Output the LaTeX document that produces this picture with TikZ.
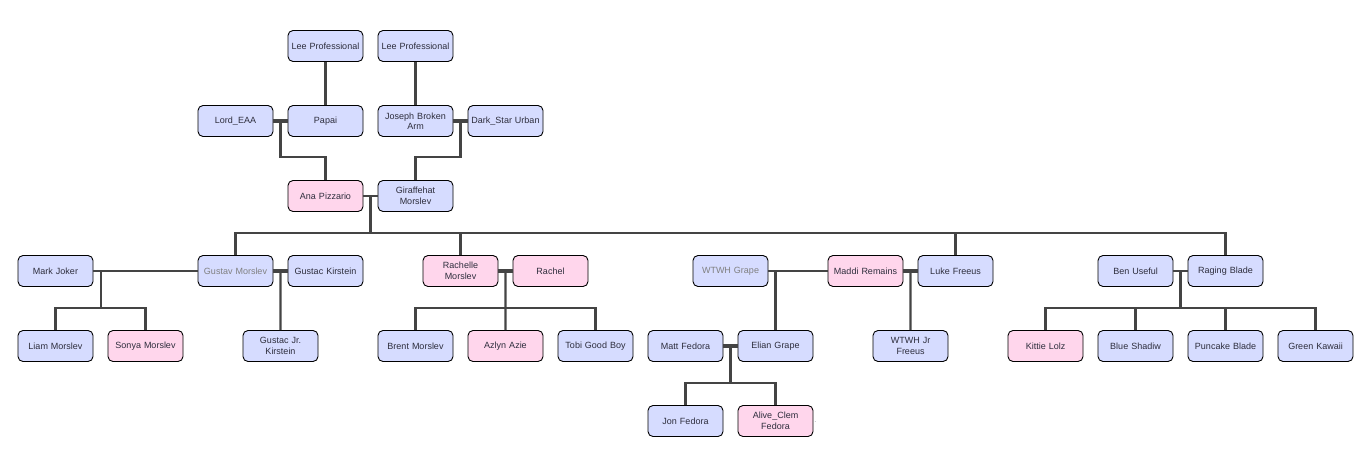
\documentclass[tikz,border=0pt]{standalone}
\usepackage{fontspec}
\setmainfont{Liberation Sans}
\usetikzlibrary{calc}
\definecolor{pblue}{RGB}{214,220,255}
\definecolor{ppink}{RGB}{255,214,236}
\definecolor{lnc}{RGB}{68,68,68}
\definecolor{txt}{RGB}{45,45,60}
\begin{document}
\begin{tikzpicture}[x=1pt,y=-1pt,
 person/.style={draw=black, line width=0.9pt, rounded corners=5pt, minimum width=75pt, minimum height=31pt, inner sep=1pt, align=center, text width=70pt, font=\fontsize{9}{10.5}\selectfont, text=txt},
 m/.style={person, fill=pblue}, f/.style={person, fill=ppink},
 faded/.style={text=gray},
 link/.style={draw=lnc, line width=2.2pt},
 marr/.style={draw=lnc, line width=4pt}]
\useasboundingbox (0,0) rectangle (1366,456);
\coordinate (lvlA) at (0,157);
\coordinate (lvlB) at (0,233);
\coordinate (lvlC) at (0,308);
\coordinate (lvlD) at (0,383);
% row 1
\node[m] (lee1) at (325.5,46) {Lee Professional};
\node[m] (lee2) at (415.5,46) {Lee Professional};
% row 2
\node[m] (lord) at (235.5,121) {Lord\_EAA};
\node[m] (papai) at (325.5,121) {Papai};
\node[m] (joseph) at (415.5,121) {Joseph Broken\\Arm};
\node[m] (dark) at (505.5,121) {Dark\_Star Urban};
% row 3
\node[f] (ana) at (325.5,196) {Ana Pizzario};
\node[m] (gir) at (415.5,196) {Giraffehat\\Morslev};
% row 4
\node[m] (mark) at (55.5,271) {Mark Joker};
\node[m,faded] (gustav) at (235.5,271) {Gustav Morslev};
\node[m] (gkir) at (325.5,271) {Gustac Kirstein};
\node[f] (rachelle) at (460.5,271) {Rachelle\\Morslev};
\node[f] (rachel) at (550.5,271) {Rachel};
\node[m,faded] (wgrape) at (730.5,271) {WTWH Grape};
\node[f] (maddi) at (865.5,271) {Maddi Remains};
\node[m] (luke) at (955.5,271) {Luke Freeus};
\node[m] (ben) at (1135.5,271) {Ben Useful};
\node[m] (raging) at (1225.5,271) {Raging Blade};
% row 5
\node[m] (liam) at (55.5,346) {Liam Morslev};
\node[f] (sonya) at (145.5,346) {Sonya Morslev};
\node[m] (gjr) at (280.5,346) {Gustac Jr.\\Kirstein};
\node[m] (brent) at (415.5,346) {Brent Morslev};
\node[f] (azlyn) at (505.5,346) {Azlyn Azie};
\node[m] (tobi) at (595.5,346) {Tobi Good Boy};
\node[m] (matt) at (685.5,346) {Matt Fedora};
\node[m] (elian) at (775.5,346) {Elian Grape};
\node[m] (wjr) at (910.5,346) {WTWH Jr\\Freeus};
\node[f] (kittie) at (1045.5,346) {Kittie Lolz};
\node[m] (blue) at (1135.5,346) {Blue Shadiw};
\node[m] (puncake) at (1225.5,346) {Puncake Blade};
\node[m] (green) at (1315.5,346) {Green Kawaii};
% row 6
\node[m] (jon) at (685.5,421) {Jon Fedora};
\node[f] (alive) at (775.5,421) {Alive\_Clem\\Fedora};
\node[font=\fontsize{5}{5}\selectfont, text=txt, inner sep=0pt, anchor=west] (dots) at ($(alive.east)+(1,1)$) {.};
% connectors, top generations
\draw[link] (lee1) -- (papai);
\draw[link] (lee2) -- (joseph);
\draw[marr] (lord) -- (papai);
\coordinate (c1) at ($(lord.east)!0.5!(papai.west)$);
\draw[link] (c1) -- (c1 |- lvlA) -| (ana.north);
\draw[marr] (joseph) -- (dark);
\coordinate (c2) at ($(joseph.east)!0.5!(dark.west)$);
\draw[link] (c2) -- (c2 |- lvlA) -| (gir.north);
\draw[link] (ana) -- (gir);
\coordinate (c3) at ($(ana.east)!0.5!(gir.west)$);
\draw[link] (c3) -- (c3 |- lvlB);
\draw[link] (gustav.north) -- (gustav.north |- lvlB) -- (raging.north |- lvlB) -- (raging.north);
\draw[link] (rachelle.north) -- (rachelle.north |- lvlB);
\draw[link] (luke.north) -- (luke.north |- lvlB);
% Mark Joker family
\draw[link] (mark) -- (gustav);
\coordinate (c4) at ($(mark.east)+(7.5,0)$);
\draw[link] (c4) -- (c4 |- lvlC);
\draw[link] (liam.north) -- (liam.north |- lvlC) -- (sonya.north |- lvlC) -- (sonya.north);
% Gustav + Gustac
\draw[marr] (gustav) -- (gkir);
\coordinate (c5) at ($(gustav.east)!0.5!(gkir.west)$);
\draw[link] (c5) -- (gjr.north);
% Rachelle + Rachel
\draw[marr] (rachelle) -- (rachel);
\coordinate (c6) at ($(rachelle.east)!0.5!(rachel.west)$);
\draw[link] (c6) -- (azlyn.north);
\draw[link] (brent.north) -- (brent.north |- lvlC) -- (tobi.north |- lvlC) -- (tobi.north);
% WTWH Grape + Maddi
\draw[link] (wgrape) -- (maddi);
\draw[link] (wgrape.east -| elian.north) -- (elian.north);
% Maddi + Luke
\draw[marr] (maddi) -- (luke);
\coordinate (c8) at ($(maddi.east)!0.5!(luke.west)$);
\draw[link] (c8) -- (wjr.north);
% Matt + Elian
\draw[marr] (matt) -- (elian);
\coordinate (c9) at ($(matt.east)!0.5!(elian.west)$);
\draw[link] (c9) -- (c9 |- lvlD);
\draw[link] (jon.north) -- (jon.north |- lvlD) -- (alive.north |- lvlD) -- (alive.north);
% Ben + Raging
\draw[link] (ben) -- (raging);
\coordinate (c10) at ($(ben.east)!0.5!(raging.west)$);
\draw[link] (c10) -- (c10 |- lvlC);
\draw[link] (kittie.north) -- (kittie.north |- lvlC) -- (green.north |- lvlC) -- (green.north);
\draw[link] (blue.north) -- (blue.north |- lvlC);
\draw[link] (puncake.north) -- (puncake.north |- lvlC);
\end{tikzpicture}
\end{document}
